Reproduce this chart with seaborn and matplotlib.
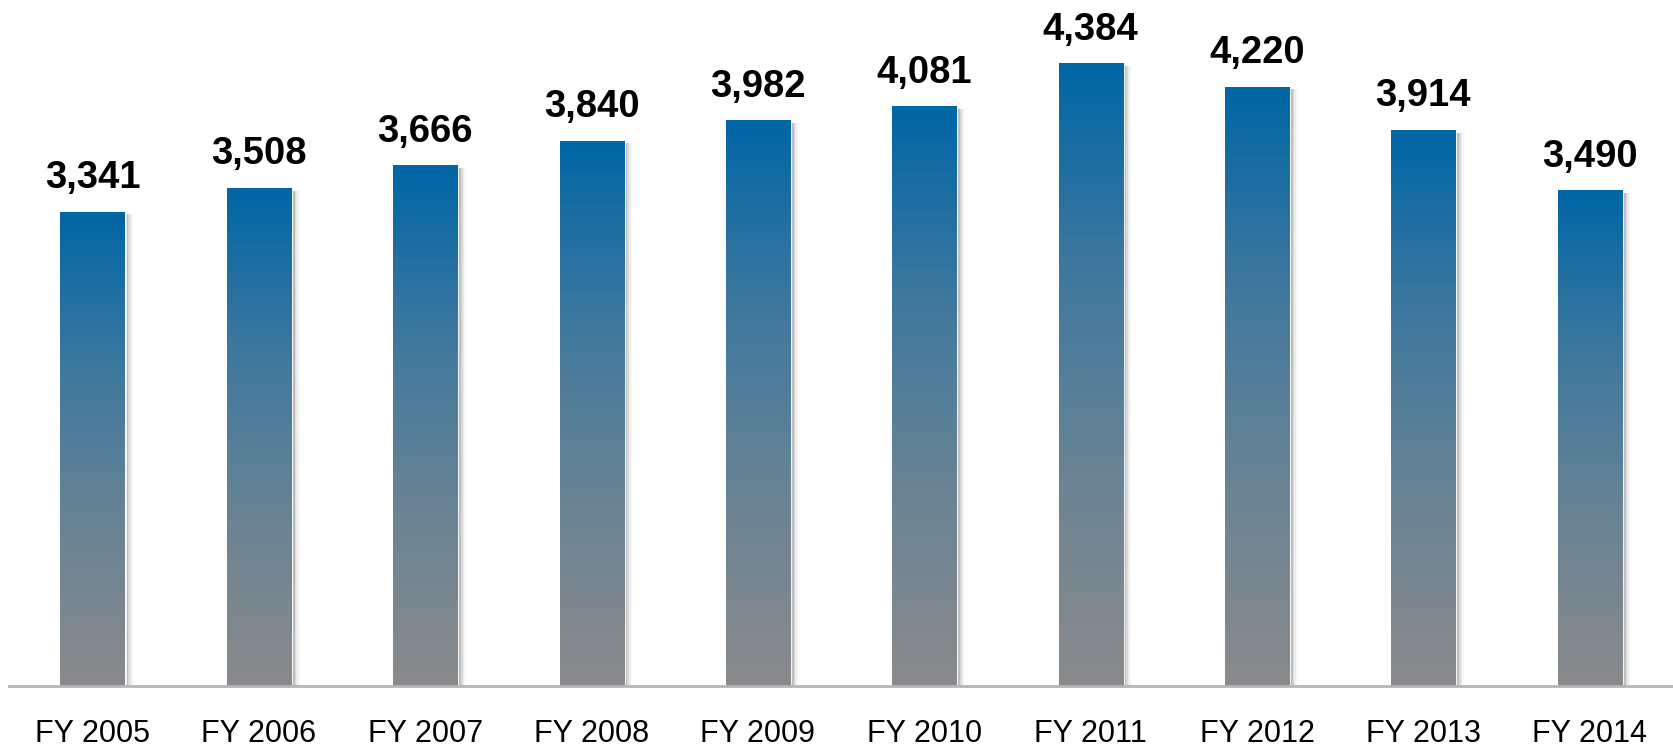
import numpy as np
import pandas as pd
import matplotlib
matplotlib.use("Agg")
import matplotlib.pyplot as plt
import seaborn as sns
from matplotlib.colors import LinearSegmentedColormap
from matplotlib.patches import Rectangle

years = ["FY 2005", "FY 2006", "FY 2007", "FY 2008", "FY 2009",
         "FY 2010", "FY 2011", "FY 2012", "FY 2013", "FY 2014"]
counts = [3341, 3508, 3666, 3840, 3982, 4081, 4384, 4220, 3914, 3490]

df = pd.DataFrame({"year": years, "count": counts})

sns.set_style("white")
plt.rcParams["font.family"] = ["Liberation Sans", "DejaVu Sans"]

fig = plt.figure(figsize=(16.73, 7.49), dpi=100)
ax = fig.add_axes([0.0, 0.084, 1.0, 0.916])

sns.barplot(data=df, x="year", y="count", ax=ax, width=0.385,
            color="#0066a6", edgecolor="white", linewidth=2.0, zorder=3)

# blue -> grey vertical gradient, per bar
grad_cmap = LinearSegmentedColormap.from_list(
    "bluegrey", ["#8a8a8c", "#6a8494", "#3f789e", "#0066a6"])
grad = np.linspace(0, 1, 256).reshape(-1, 1)

for p in ax.patches:
    x0, w, h = p.get_x(), p.get_width(), p.get_height()
    # soft shadow on the right
    for k, a in zip([0.012, 0.022, 0.032, 0.042, 0.052],
                    [0.30, 0.20, 0.12, 0.07, 0.04]):
        ax.add_patch(Rectangle((x0 + k, 0), w, h - 20, facecolor="#555555",
                               edgecolor="none", alpha=a, zorder=1))
    im = ax.imshow(grad, extent=[x0, x0 + w, 0, h], origin="lower",
                   cmap=grad_cmap, aspect="auto", zorder=4)
    im.set_clip_path(p)
    ax.text(x0 + w / 2, h + 110, f"{h:,.0f}", ha="center", va="bottom",
            fontsize=27.5, fontweight="bold", color="black", zorder=5)

ax.set_xlim(-0.556, 9.50)
ax.set_ylim(0, 4830)
ax.set_xlabel("")
ax.set_ylabel("")
ax.set_yticks([])
ax.tick_params(axis="x", length=0, pad=24, labelsize=22, colors="black")
for s in ["top", "right", "left"]:
    ax.spines[s].set_visible(False)
ax.spines["bottom"].set_color("#b5b5b5")
ax.spines["bottom"].set_linewidth(2)
ax.spines["bottom"].set_zorder(6)
ax.spines["bottom"].set_bounds(-0.5, 9.50)

fig.savefig("out.png", dpi=100)
